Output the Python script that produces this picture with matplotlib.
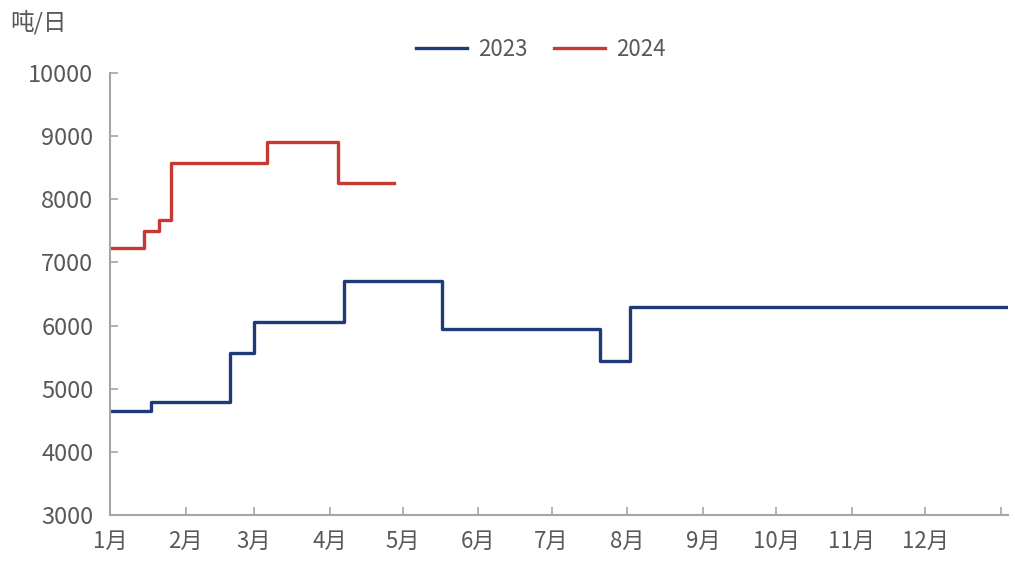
import matplotlib.pyplot as plt

plt.rcParams['font.family'] = ['Noto Sans CJK SC', 'DejaVu Sans']

# day of year where each level starts, and the level itself (吨/日)
days_2023 = [0, 17, 49, 59, 96, 136, 201, 213, 367]
vals_2023 = [4640, 4790, 5560, 6050, 6700, 5940, 5445, 6300, 6300]

days_2024 = [0, 14, 20, 25, 64.5, 93.5, 116.5]
vals_2024 = [7230, 7500, 7670, 8580, 8900, 8250, 8250]

month_starts = [0, 31, 59, 90, 120, 151, 181, 212, 243, 273, 304, 334, 365]
month_labels = ['1月', '2月', '3月', '4月', '5月', '6月', '7月', '8月',
                '9月', '10月', '11月', '12月', '']

grey = '#595959'
axis_grey = '#A6A6A6'

fig = plt.figure(figsize=(10.15, 5.61), dpi=100)
ax = fig.add_axes([110 / 1015, 1 - 515 / 561, (1008 - 110) / 1015, (515 - 73) / 561])

ax.plot(days_2023, vals_2023, drawstyle='steps-post', color='#1F3A78', lw=2.4, label='2023')
ax.plot(days_2024, vals_2024, drawstyle='steps-post', color='#C63A33', lw=2.4, label='2024')

ax.set_xlim(0, 368)
ax.set_ylim(3000, 10000)
ax.set_yticks(range(3000, 10001, 1000))
ax.set_xticks(month_starts)
ax.set_xticklabels(month_labels)

for side in ('top', 'right'):
    ax.spines[side].set_visible(False)
for side in ('left', 'bottom'):
    ax.spines[side].set_color(axis_grey)
    ax.spines[side].set_linewidth(1.5)

ax.tick_params(axis='both', direction='in', length=6, width=1.2, color=axis_grey,
               labelcolor=grey)
ax.tick_params(axis='y', pad=12, labelsize=17)
ax.tick_params(axis='x', pad=11, labelsize=16)

fig.text(10 / 1015, 1 - 22 / 561, '吨/日', color=grey, fontsize=17, va='center', ha='left')

leg = fig.legend(loc='center', bbox_to_anchor=(541 / 1015, 1 - 49 / 561), ncol=2,
                 frameon=False, fontsize=16, handlelength=2.3, columnspacing=1.2,
                 handletextpad=0.5)
for t in leg.get_texts():
    t.set_color(grey)

fig.savefig('out.png', dpi=100)
